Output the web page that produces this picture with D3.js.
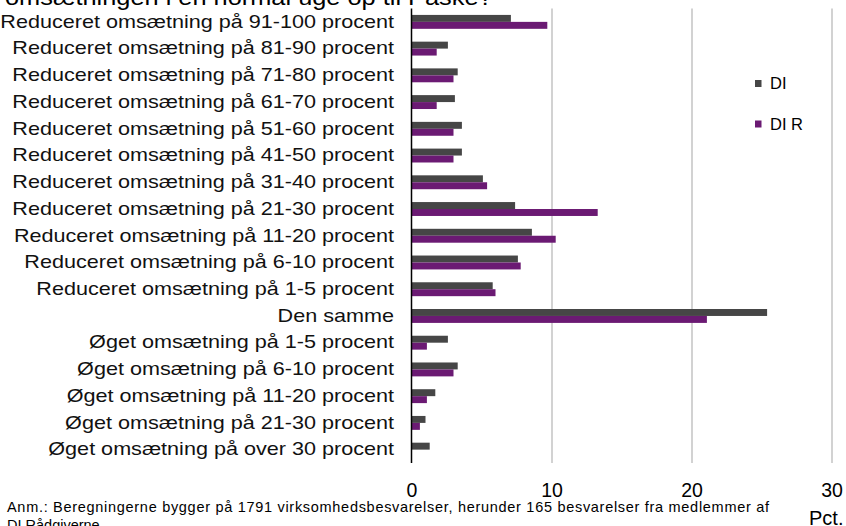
<!DOCTYPE html>
<html>
<head>
<meta charset="utf-8">
<script src="https://cdn.jsdelivr.net/npm/d3@7"></script>
<style>
  html, body { margin: 0; padding: 0; background: #fff; }
  svg { display: block; font-family: "Liberation Sans", Arial, sans-serif; }
</style>
</head>
<body>
<svg id="chart" width="846" height="526"></svg>
<script>
const categories = [
  "Reduceret omsætning på 91-100 procent",
  "Reduceret omsætning på 81-90 procent",
  "Reduceret omsætning på 71-80 procent",
  "Reduceret omsætning på 61-70 procent",
  "Reduceret omsætning på 51-60 procent",
  "Reduceret omsætning på 41-50 procent",
  "Reduceret omsætning på 31-40 procent",
  "Reduceret omsætning på 21-30 procent",
  "Reduceret omsætning på 11-20 procent",
  "Reduceret omsætning på 6-10 procent",
  "Reduceret omsætning på 1-5 procent",
  "Den samme",
  "Øget omsætning på 1-5 procent",
  "Øget omsætning på 6-10 procent",
  "Øget omsætning på 11-20 procent",
  "Øget omsætning på 21-30 procent",
  "Øget omsætning på over 30 procent"
];
const seriesNames = ["DI", "DI R"];
const valuesDI  = [7.1, 2.6, 3.3, 3.1, 3.6, 3.6, 5.1, 7.4, 8.6, 7.6, 5.8, 25.4, 2.6, 3.3, 1.7, 1.0, 1.3];
const valuesDIR = [9.7, 1.8, 3.0, 1.8, 3.0, 3.0, 5.4, 13.3, 10.3, 7.8, 6.0, 21.1, 1.1, 3.0, 1.1, 0.6, 0.0];
const xTicks = [0, 10, 20, 30];
const titleText = "omsætningen i en normal uge op til Påske?";
const noteLines = [
  "Anm.: Beregningerne  bygger på 1791 virksomhedsbesvarelser, herunder  165 besvarelser fra medlemmer af",
  "DI Rådgiverne"
];
const unitLabel = "Pct.";
const colors = { "DI": "#464646", "DI R": "#6b1a73" };

const svg = d3.select("#chart");
const plot = { left: 411.5, right: 831.5, top: 8.5, bottom: 463 };

const x = d3.scaleLinear().domain([0, 30]).range([plot.left, plot.right]);
const y = d3.scaleBand().domain(categories).range([plot.top, plot.bottom])
  .paddingInner(0.48).paddingOuter(0.24);
const ySub = d3.scaleBand().domain(seriesNames).range([0, y.bandwidth()]);

// title (partially cut off at the top, as in the reference)
svg.append("text")
  .attr("transform", "translate(5,5) scale(1.18,1)")
  .attr("font-size", 21.5)
  .attr("fill", "#000")
  .text(titleText);

// gridlines
svg.append("g")
  .attr("transform", `translate(0,${plot.top})`)
  .call(d3.axisBottom(x).tickValues(xTicks.filter(d => d > 0)).tickSize(plot.bottom - plot.top).tickFormat(""))
  .call(g => g.select(".domain").remove())
  .call(g => g.selectAll("line").attr("stroke", "#c3c3c3").attr("stroke-width", 1.5));

// bars
const data = categories.map((c, i) => ({ cat: c, vals: [
  { s: "DI", v: valuesDI[i] }, { s: "DI R", v: valuesDIR[i] }
]}));
const groups = svg.append("g").selectAll("g").data(data).join("g")
  .attr("transform", d => `translate(0,${y(d.cat)})`);
groups.selectAll("rect").data(d => d.vals).join("rect")
  .attr("x", x(0))
  .attr("y", d => ySub(d.s))
  .attr("width", d => x(d.v) - x(0))
  .attr("height", ySub.bandwidth())
  .attr("fill", d => colors[d.s]);

// zero axis line
svg.append("line")
  .attr("x1", x(0)).attr("x2", x(0))
  .attr("y1", plot.top).attr("y2", plot.bottom)
  .attr("stroke", "#000").attr("stroke-width", 1.5);

// category labels
svg.append("g")
  .attr("transform", "translate(394,0)")
  .call(d3.axisLeft(y).tickSize(0).tickPadding(0))
  .call(g => g.select(".domain").remove())
  .call(g => g.selectAll("text")
    .attr("font-size", 18)
    .attr("font-family", "Liberation Sans, Arial, sans-serif")
    .attr("fill", "#111")
    .attr("transform", "scale(1.2,1)"));

// x tick labels
svg.append("g")
  .attr("transform", `translate(0,${plot.bottom})`)
  .call(d3.axisBottom(x).tickValues(xTicks).tickSize(0).tickPadding(20.5))
  .call(g => g.select(".domain").remove())
  .call(g => g.selectAll("text")
    .attr("font-size", 19.5)
    .attr("font-family", "Liberation Sans, Arial, sans-serif")
    .attr("fill", "#000"));

// unit label
svg.append("text")
  .attr("x", 809).attr("y", 525)
  .attr("font-size", 20)
  .attr("fill", "#000")
  .text(unitLabel);

// note
svg.append("text")
  .attr("x", 7).attr("y", 511.5)
  .attr("font-size", 14.5)
  .attr("textLength", 762)
  .attr("lengthAdjust", "spacing")
  .attr("fill", "#000")
  .text(noteLines[0]);
svg.append("text")
  .attr("x", 7).attr("y", 530)
  .attr("font-size", 14.5)
  .attr("fill", "#000")
  .text(noteLines[1]);

// legend
const legend = svg.append("g").selectAll("g").data(seriesNames).join("g")
  .attr("transform", (d, i) => `translate(755,${83.5 + i * 40.5})`);
legend.append("rect")
  .attr("x", 0).attr("y", -3.5).attr("width", 6.5).attr("height", 7)
  .attr("fill", d => colors[d]);
legend.append("text")
  .attr("x", 15).attr("y", 0).attr("dy", "0.36em")
  .attr("font-size", 16.5)
  .attr("fill", "#000")
  .text(d => d);
</script>
</body>
</html>
